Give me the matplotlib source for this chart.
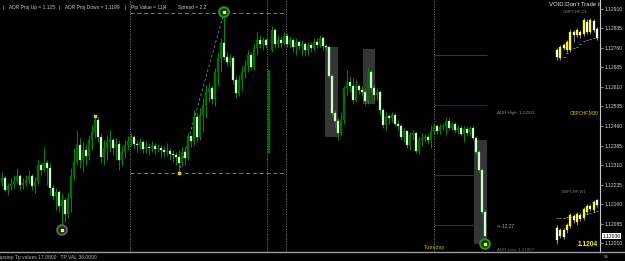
import matplotlib
matplotlib.use('Agg')
import matplotlib.pyplot as plt
import numpy as np
from matplotlib.patches import Rectangle
from matplotlib.transforms import blended_transform_factory

# GBPCHF M30 candles, one row of ten per line
opens = [
    1.12245, 1.12260, 1.12214, 1.12229, 1.12237, 1.12249, 1.12268, 1.12233, 1.12241, 1.12252,
    1.12268, 1.12229, 1.12245, 1.12310, 1.12291, 1.12318, 1.12299, 1.12222, 1.12191, 1.12206,
    1.12152, 1.12175, 1.12122, 1.12183, 1.12268, 1.12322, 1.12387, 1.12329, 1.12368, 1.12345,
    1.12406, 1.12437, 1.12483, 1.12418, 1.12341, 1.12375, 1.12398, 1.12406, 1.12375, 1.12391,
    1.12329, 1.12360, 1.12387, 1.12402, 1.12418, 1.12391, 1.12387, 1.12398, 1.12372, 1.12379,
    1.12375, 1.12383, 1.12372, 1.12375, 1.12368, 1.12360, 1.12364, 1.12352, 1.12349, 1.12341,
    1.12318, 1.12360, 1.12337, 1.12422, 1.12402, 1.12495, 1.12418, 1.12502, 1.12541, 1.12591,
    1.12606, 1.12564, 1.12668, 1.12722, 1.12779, 1.12725, 1.12706, 1.12722, 1.12637, 1.12587,
    1.12637, 1.12668, 1.12691, 1.12733, 1.12687, 1.12760, 1.12791, 1.12775, 1.12791, 1.12356,
    1.12752, 1.12829, 1.12775, 1.12791, 1.12779, 1.12806, 1.12775, 1.12791, 1.12764, 1.12783,
    1.12768, 1.12775, 1.12752, 1.12772, 1.12760, 1.12783, 1.12772, 1.12798, 1.12768, 1.12764,
    1.12652, 1.12510, 1.12479, 1.12433, 1.12483, 1.12606, 1.12629, 1.12614, 1.12560, 1.12614,
    1.12598, 1.12591, 1.12556, 1.12668, 1.12606, 1.12579, 1.12591, 1.12522, 1.12464, 1.12499,
    1.12491, 1.12502, 1.12468, 1.12460, 1.12418, 1.12441, 1.12387, 1.12425, 1.12433, 1.12364,
    1.12406, 1.12414, 1.12418, 1.12406, 1.12441, 1.12460, 1.12441, 1.12456, 1.12460, 1.12479,
    1.12452, 1.12468, 1.12445, 1.12452, 1.12429, 1.12449, 1.12433, 1.12452, 1.12414, 1.12360,
    1.12291, 1.12129,
]
closes = [
    1.12260, 1.12214, 1.12229, 1.12237, 1.12249, 1.12268, 1.12233, 1.12241, 1.12252, 1.12268,
    1.12229, 1.12245, 1.12310, 1.12291, 1.12318, 1.12299, 1.12222, 1.12191, 1.12206, 1.12152,
    1.12175, 1.12122, 1.12183, 1.12268, 1.12322, 1.12387, 1.12329, 1.12368, 1.12345, 1.12406,
    1.12437, 1.12483, 1.12418, 1.12341, 1.12375, 1.12398, 1.12406, 1.12375, 1.12391, 1.12329,
    1.12360, 1.12387, 1.12402, 1.12418, 1.12391, 1.12387, 1.12398, 1.12372, 1.12379, 1.12375,
    1.12383, 1.12372, 1.12375, 1.12368, 1.12360, 1.12364, 1.12352, 1.12349, 1.12341, 1.12318,
    1.12360, 1.12337, 1.12422, 1.12402, 1.12495, 1.12418, 1.12502, 1.12541, 1.12591, 1.12606,
    1.12564, 1.12668, 1.12722, 1.12779, 1.12725, 1.12706, 1.12722, 1.12637, 1.12587, 1.12637,
    1.12668, 1.12691, 1.12733, 1.12687, 1.12760, 1.12791, 1.12775, 1.12791, 1.12772, 1.12675,
    1.12829, 1.12775, 1.12791, 1.12779, 1.12806, 1.12775, 1.12791, 1.12764, 1.12783, 1.12768,
    1.12775, 1.12752, 1.12772, 1.12760, 1.12783, 1.12772, 1.12798, 1.12768, 1.12764, 1.12652,
    1.12510, 1.12479, 1.12433, 1.12483, 1.12606, 1.12629, 1.12614, 1.12560, 1.12614, 1.12598,
    1.12591, 1.12556, 1.12668, 1.12606, 1.12579, 1.12591, 1.12522, 1.12464, 1.12499, 1.12491,
    1.12502, 1.12468, 1.12460, 1.12418, 1.12441, 1.12387, 1.12425, 1.12433, 1.12364, 1.12406,
    1.12414, 1.12418, 1.12406, 1.12441, 1.12460, 1.12441, 1.12456, 1.12460, 1.12479, 1.12452,
    1.12468, 1.12445, 1.12452, 1.12429, 1.12449, 1.12433, 1.12452, 1.12414, 1.12360, 1.12291,
    1.12129, 1.12036,
]
highs = [
    1.12283, 1.12268, 1.12241, 1.12260, 1.12272, 1.12299, 1.12275, 1.12260, 1.12272, 1.12291,
    1.12275, 1.12264, 1.12329, 1.12322, 1.12379, 1.12329, 1.12318, 1.12233, 1.12222, 1.12214,
    1.12202, 1.12183, 1.12202, 1.12299, 1.12375, 1.12445, 1.12414, 1.12398, 1.12387, 1.12425,
    1.12464, 1.12495, 1.12495, 1.12433, 1.12406, 1.12425, 1.12445, 1.12414, 1.12414, 1.12406,
    1.12383, 1.12406, 1.12422, 1.12433, 1.12425, 1.12406, 1.12414, 1.12406, 1.12402, 1.12395,
    1.12402, 1.12395, 1.12391, 1.12387, 1.12383, 1.12395, 1.12375, 1.12368, 1.12360, 1.12368,
    1.12379, 1.12375, 1.12433, 1.12425, 1.12522, 1.12510, 1.12529, 1.12568, 1.12618, 1.12629,
    1.12618, 1.12683, 1.12745, 1.12798, 1.12898, 1.12745, 1.12737, 1.12729, 1.12652, 1.12656,
    1.12691, 1.12714, 1.12752, 1.12745, 1.12775, 1.12822, 1.12810, 1.12802, 1.12798, 1.12675,
    1.12845, 1.12837, 1.12810, 1.12806, 1.12822, 1.12818, 1.12806, 1.12798, 1.12798, 1.12791,
    1.12791, 1.12783, 1.12783, 1.12783, 1.12798, 1.12798, 1.12810, 1.12806, 1.12775, 1.12768,
    1.12660, 1.12522, 1.12491, 1.12514, 1.12614, 1.12675, 1.12652, 1.12645, 1.12637, 1.12622,
    1.12614, 1.12606, 1.12683, 1.12675, 1.12622, 1.12606, 1.12598, 1.12529, 1.12514, 1.12506,
    1.12514, 1.12510, 1.12483, 1.12468, 1.12452, 1.12445, 1.12437, 1.12445, 1.12437, 1.12422,
    1.12433, 1.12429, 1.12429, 1.12464, 1.12468, 1.12468, 1.12468, 1.12472, 1.12491, 1.12491,
    1.12475, 1.12475, 1.12464, 1.12464, 1.12460, 1.12460, 1.12460, 1.12460, 1.12422, 1.12368,
    1.12299, 1.12137,
]
lows = [
    1.12229, 1.12206, 1.12195, 1.12214, 1.12222, 1.12241, 1.12214, 1.12218, 1.12229, 1.12237,
    1.12214, 1.12202, 1.12237, 1.12272, 1.12283, 1.12233, 1.12195, 1.12175, 1.12137, 1.12129,
    1.12079, 1.12091, 1.12106, 1.12129, 1.12252, 1.12310, 1.12299, 1.12283, 1.12310, 1.12329,
    1.12368, 1.12414, 1.12398, 1.12322, 1.12310, 1.12329, 1.12360, 1.12349, 1.12329, 1.12291,
    1.12306, 1.12337, 1.12368, 1.12383, 1.12375, 1.12360, 1.12368, 1.12356, 1.12356, 1.12349,
    1.12360, 1.12352, 1.12360, 1.12337, 1.12341, 1.12345, 1.12329, 1.12322, 1.12310, 1.12279,
    1.12306, 1.12310, 1.12329, 1.12379, 1.12387, 1.12398, 1.12406, 1.12437, 1.12491, 1.12552,
    1.12545, 1.12537, 1.12614, 1.12668, 1.12714, 1.12691, 1.12691, 1.12622, 1.12568, 1.12575,
    1.12598, 1.12645, 1.12668, 1.12675, 1.12675, 1.12733, 1.12760, 1.12752, 1.12760, 1.12356,
    1.12745, 1.12760, 1.12760, 1.12760, 1.12772, 1.12764, 1.12760, 1.12745, 1.12733, 1.12752,
    1.12733, 1.12729, 1.12733, 1.12745, 1.12752, 1.12760, 1.12764, 1.12752, 1.12752, 1.12645,
    1.12499, 1.12452, 1.12406, 1.12422, 1.12468, 1.12579, 1.12591, 1.12545, 1.12552, 1.12583,
    1.12575, 1.12541, 1.12545, 1.12591, 1.12560, 1.12560, 1.12502, 1.12452, 1.12445, 1.12468,
    1.12475, 1.12460, 1.12445, 1.12406, 1.12398, 1.12375, 1.12368, 1.12406, 1.12356, 1.12352,
    1.12383, 1.12398, 1.12391, 1.12375, 1.12429, 1.12429, 1.12429, 1.12445, 1.12425, 1.12445,
    1.12445, 1.12433, 1.12429, 1.12422, 1.12398, 1.12422, 1.12422, 1.12406, 1.12352, 1.12283,
    1.12122, 1.12033,
]

price_ticks = [1.12910, 1.12835, 1.12760, 1.12685, 1.12610, 1.12535, 1.12460,
               1.12385, 1.12310, 1.12235, 1.12160, 1.12085, 1.12010]
current_price = 1.12036

# day separators (bar index), day high/low of the previous session
day_separators = [42.7, 88.3, 94.7, 144.0]
day_high = 1.12895
day_low = 1.12280
swing_low_idx, swing_high_idx = 59, 74

# shaded boxes: start bar, end bar, top, bottom
box_start = [107.7, 120.3, 157.3]
box_end = [112.0, 124.3, 161.7]
box_top = [1.12764, 1.12756, 1.12406]
box_bottom = [1.12418, 1.12545, 1.12006]

# pivot-like levels drawn on the last day
level_prices = [1.12733, 1.12541, 1.12272, 1.12079]
level_colors = ['#7a1818', '#1c1c8c', '#0e4a0e', '#0e4a0e']

# signal circles and fractal dots
signal_idx = [20, 74, 161]
signal_price = [1.12060, 1.12898, 1.12006]
signal_ring = ['#5a5f6a', '#1f9a1f', '#1f9a1f']
fractal_idx = [31, 59]
fractal_price = [1.12497, 1.12279]

# small D1 / W1 panels (relative heights inside each panel)
d1_open = [12, 4, 17, 12, 12, 30, 27, 30, 28, 40, 30, 41, 33]
d1_close = [5, 15, 14, 20, 30, 27, 32, 27, 42, 30, 42, 32, 24]
d1_high = [14, 17, 19, 22, 33, 32, 34, 32, 44, 43, 44, 43, 35]
d1_low = [2, 2, 12, 10, 10, 20, 25, 24, 26, 28, 28, 30, 22]
d1_ma = [None, None, 5, 9, 13, 14, 15, 18, 21, 22, 23, 24, 25]

w1_open = [17, 9, 15, 15, 19, 29, 23, 30, 27, 33, 39, 35, 45]
w1_close = [5, 15, 8, 20, 30, 25, 31, 26, 36, 39, 36, 43, 40]
w1_high = [20, 17, 17, 22, 32, 31, 33, 32, 38, 41, 41, 45, 46]
w1_low = [1, 7, 6, 12, 17, 22, 20, 24, 25, 31, 34, 33, 38]
w1_ma = [27, 27, 27, 28, 28, 29, 29, 30, 31, 31, 32, 33, 34]

W, H = 625, 261
fig = plt.figure(figsize=(W / 100, H / 100), dpi=100, facecolor='black')


def fx(px):
    return px / W


def fy(py):
    return 1 - py / H


# main price window: pixels x 0..600, y 0..252
ax = fig.add_axes([0, fy(252), fx(600), 252 / H])
ax.set_facecolor('black')
idx = np.arange(len(closes))
o = np.array(opens)
c = np.array(closes)
ax.set_xlim(-2 / 3, 598 / 3)
ax.set_ylim(1.119754, 1.129446)

for s, e, t, b in zip(box_start, box_end, box_top, box_bottom):
    ax.add_patch(Rectangle((s, b), e - s, t - b, facecolor='#363636',
                           edgecolor='none', zorder=1))

dot = (0, (1.5, 1.5))
for xs in day_separators:
    ax.axvline(xs, color='#7a7a7a', lw=0.6, ls=dot, zorder=1)

ax.hlines([day_high, day_low], day_separators[0], day_separators[2],
          colors='#7a7a7a', lw=0.7, linestyles=(0, (4, 3)), zorder=1)
ax.plot([swing_low_idx, swing_high_idx], [day_low, day_high], color='#8a8a8a',
        lw=0.6, ls=(0, (3, 3)), zorder=1)
ax.hlines(level_prices, day_separators[3], box_end[2], colors=level_colors,
          lw=0.8, zorder=1)

# candles
up = c >= o
ax.vlines(idx, lows, highs, color='#00a400', lw=0.6, zorder=2)
ax.bar(idx[up], (c - o)[up], bottom=o[up], width=0.65, color='#006a00',
       edgecolor='#008c00', linewidth=0.25, zorder=3)
ax.bar(idx[~up], (o - c)[~up], bottom=c[~up], width=0.65, color='#e6ffe6',
       edgecolor='#78e078', linewidth=0.25, zorder=3)

ax.scatter(signal_idx, signal_price, s=48, facecolor='#0a2a0a', edgecolor=signal_ring,
           linewidths=1.5, zorder=5)
ax.scatter(signal_idx, signal_price, s=3, marker='s', color='#ffff00', zorder=6)
ax.scatter(fractal_idx, fractal_price, s=3, marker='s', color='#e6d200', zorder=6)

# right price scale
ax.yaxis.tick_right()
ax.set_yticks(price_ticks)
ax.set_yticklabels([f'{p:.5f}' for p in price_ticks])
ax.tick_params(axis='y', colors='#bdbdbd', labelsize=3.6, length=2, width=0.5, pad=1.5,
               labelcolor='#d6d6d6')
for lab in ax.get_yticklabels():
    lab.set_fontfamily('Liberation Sans')
ax.set_xticks([])
for side in ['top', 'left']:
    ax.spines[side].set_visible(False)
ax.spines['right'].set_color('#c8c8c8')
ax.spines['right'].set_linewidth(0.8)
ax.spines['bottom'].set_color('#9a9a9a')
ax.spines['bottom'].set_linewidth(1.0)

trans = blended_transform_factory(ax.transAxes, ax.transData)
ax.text(1.004, current_price, f'{current_price:.5f}', transform=trans, fontsize=3.6,
        family='Liberation Sans', color='black', va='center', ha='left',
        bbox=dict(boxstyle='square,pad=0.15', fc='white', ec='none'), zorder=7)

# separator line into the indicator window
fig.add_artist(plt.Line2D([fx(600), 1], [fy(252), fy(252)], color='#9a9a9a', lw=1.0))


def put(px, py, s, size=3.5, color='#c8c8c8', **kw):
    fig.text(fx(px), fy(py), s, fontsize=size, color=color, va='center', ha='left',
             family='Liberation Sans', **kw)


# header of the chart
put(3, 8, '|')
put(9, 8, 'ADR Proj Up = 1.125')
put(59, 8, '|')
put(65, 8, 'ADR Proj Down = 1.1199')
put(125, 8, '|')
put(131, 8, 'Pip Value = 11.4')
put(163, 8, '|')
put(178, 8, 'Spread = 2.2')

put(549, 5, "VOID:Don't Trade it", size=4.3, color='#e8e8e8')
put(563, 12, 'GBPCHF D1', size=3.0, color='#858585')
put(497, 113, 'ADR High: 1.12522', size=3.2, color='#8c8c8c')
put(570, 113, 'GBPCHF,M30', size=3.3, color='#c8c800')
put(561, 192, 'GBPCHF W1', size=3.0, color='#858585')
put(497, 227, '<--12:27', size=3.4, color='#a8a8a8')
put(497, 250, 'ADR Low: 1.11997', size=3.2, color='#6c6c6c')
put(424, 247, 'Tuesday', size=4.1, color='#bfae00')
put(578, 245, '1.1204', size=4.8, color='#ffea00', weight='bold')
put(0, 257, 'ipstep Tp values 17.0800   TP VAL 36.0000', size=3.6, color='#b4b4b4')
put(604, 257, '95', size=3.2, color='#bdbdbd')


def mini_chart(top_px, op, cl, hi, lo, ma):
    m = fig.add_axes([fx(555), fy(top_px + 50), fx(44), 50 / H])
    m.set_xlim(-0.6, 12.6)
    m.set_ylim(0, 50)
    m.axis('off')
    m.patch.set_alpha(0)
    k = np.arange(len(op))
    op, cl = np.array(op), np.array(cl)
    bull = cl >= op
    m.vlines(k, lo, hi, color='#c8c8c8', lw=0.5, zorder=2)
    m.bar(k[bull], (cl - op)[bull], bottom=op[bull], width=0.6, color='#ffff00',
          edgecolor='#ffff00', linewidth=0.2, zorder=3)
    m.bar(k[~bull], (op - cl)[~bull], bottom=cl[~bull], width=0.6, color='#ffffff',
          edgecolor='#ffffff', linewidth=0.2, zorder=3)
    mk = [i for i, v in enumerate(ma) if v is not None]
    m.scatter(mk, [ma[i] for i in mk], marker='_', s=4, color='#9a9a9a', linewidths=0.6,
              zorder=1)


mini_chart(12, d1_open, d1_close, d1_high, d1_low, d1_ma)
mini_chart(195, w1_open, w1_close, w1_high, w1_low, w1_ma)

fig.savefig('out.png', dpi=100, facecolor='black')
